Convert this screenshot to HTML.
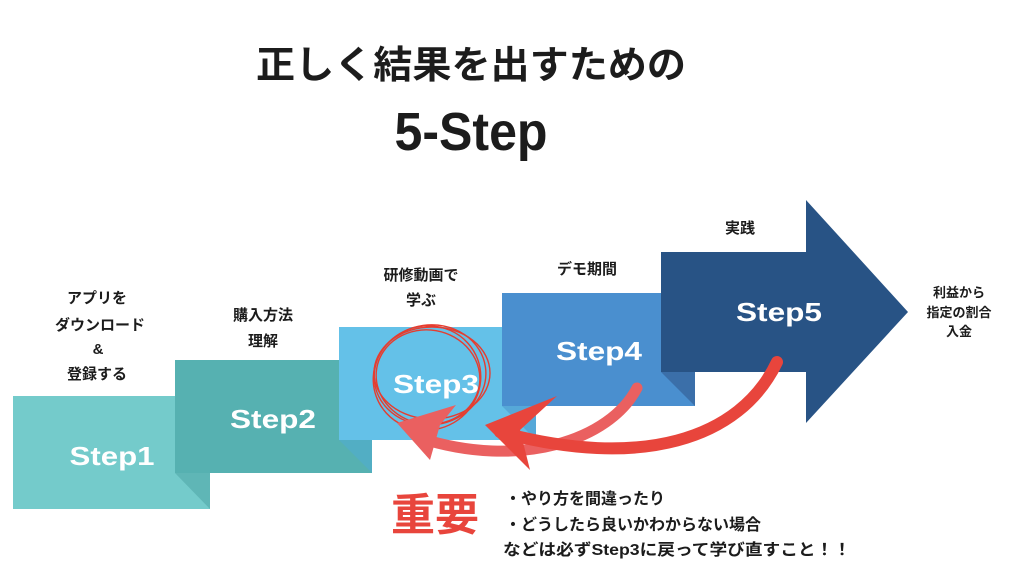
<!DOCTYPE html>
<html><head><meta charset="utf-8"><style>
html,body{margin:0;padding:0;background:#fff;width:1024px;height:575px;overflow:hidden}
svg{display:block}
text{font-family:"Liberation Sans","Noto Sans CJK JP",sans-serif;font-weight:bold}
</style></head><body>
<svg width="1024" height="575" viewBox="0 0 1024 575" xmlns="http://www.w3.org/2000/svg">
<text x="471" y="78" font-size="38" text-anchor="middle" fill="#1c1c1c" textLength="430" lengthAdjust="spacingAndGlyphs">正しく結果を出すための</text>
<text x="471" y="150" font-size="54" text-anchor="middle" fill="#1c1c1c" textLength="153" lengthAdjust="spacingAndGlyphs">5-Step</text>

<rect x="13" y="396" width="197" height="113" fill="#74cbcb"/>
<polygon points="175,473 210,473 210,509" fill="#5fb6b6"/>
<rect x="175" y="360" width="197" height="113" fill="#56b1b1"/>
<polygon points="339,440 372,440 372,473" fill="#52aec4"/>
<rect x="339" y="327" width="197" height="113" fill="#64c1e8"/>
<polygon points="502,406 536,406 536,440" fill="#56a8d8"/>
<rect x="502" y="293" width="193" height="113" fill="#4a8fcf"/>
<polygon points="661,372 695,372 695,406" fill="#3b6fa9"/>
<polygon points="661,252 806,252 806,200 908,312 806,423 806,372 661,372" fill="#285385"/>

<g fill="#fff" font-size="26">
<text x="112" y="465" text-anchor="middle" textLength="85" lengthAdjust="spacingAndGlyphs">Step1</text>
<text x="273" y="428" text-anchor="middle" textLength="86" lengthAdjust="spacingAndGlyphs">Step2</text>
<text x="436" y="393" text-anchor="middle" textLength="86" lengthAdjust="spacingAndGlyphs">Step3</text>
<text x="599" y="360" text-anchor="middle" textLength="86" lengthAdjust="spacingAndGlyphs">Step4</text>
<text x="779" y="321" text-anchor="middle" textLength="86" lengthAdjust="spacingAndGlyphs">Step5</text>
</g>

<g fill="#1c1c1c" font-size="15" text-anchor="middle">
<text x="97" y="303">アプリを</text>
<text x="100" y="330">ダウンロード</text>
<text x="98" y="354">&amp;</text>
<text x="97" y="379">登録する</text>
<text x="263" y="320">購入方法</text>
<text x="263" y="346">理解</text>
<text x="421" y="280">研修動画で</text>
<text x="421" y="305">学ぶ</text>
<text x="587" y="274">デモ期間</text>
<text x="740" y="233">実践</text>
<text x="959" y="297" font-size="13">利益から</text>
<text x="959" y="317" font-size="13">指定の割合</text>
<text x="959" y="336" font-size="13">入金</text>
</g>

<g fill="none" stroke="#e53d30" stroke-width="1.4">
<ellipse cx="430" cy="375" rx="56" ry="50" transform="rotate(-8 430 375)"/>
<ellipse cx="428" cy="377" rx="52" ry="47" transform="rotate(10 428 377)"/>
<ellipse cx="432" cy="373" rx="58" ry="46"/>
<ellipse cx="427" cy="378" rx="54" ry="52" transform="rotate(-20 427 378)"/>
</g>

<path d="M637,388 C610,440 520,470 420,438" fill="none" stroke="#ea6060" stroke-width="11" stroke-linecap="round"/>
<path d="M397,423 L456,405 L440,425 L430,460 Z" fill="#ea6060"/>
<path d="M777,362 C740,440 640,470 500,432" fill="none" stroke="#e8453c" stroke-width="12" stroke-linecap="round"/>
<path d="M485,425 L557,396 L520,430 L530,470 Z" fill="#e8453c"/>

<text x="435" y="530" font-size="44" fill="#e8453c" text-anchor="middle">重要</text>
<g fill="#1c1c1c" font-size="16">
<text x="505" y="504">・やり方を間違ったり</text>
<text x="505" y="530">・どうしたら良いかわからない場合</text>
<text x="503" y="555" textLength="348" lengthAdjust="spacingAndGlyphs">などは必ずStep3に戻って学び直すこと！！</text>
</g>
</svg>
</body></html>
